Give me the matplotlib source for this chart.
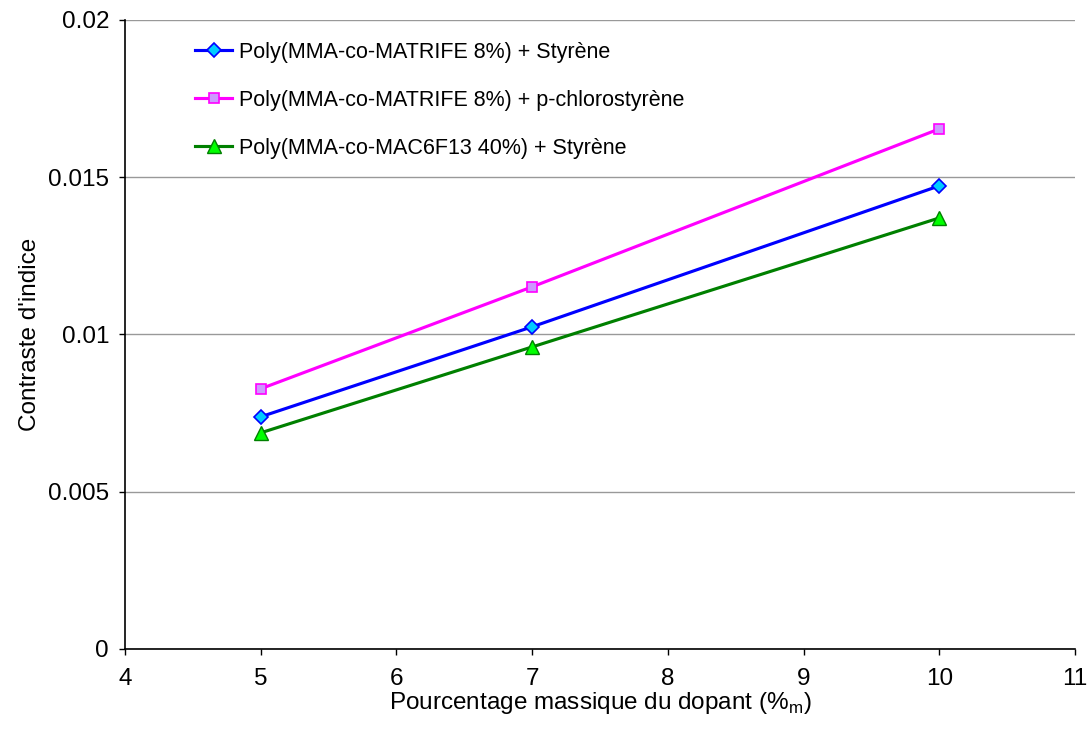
import numpy as np
import matplotlib
matplotlib.use("Agg")
from matplotlib import pyplot as plt

plt.rcParams['font.family'] = ['Liberation Sans', 'DejaVu Sans']

# data
dopant = [5, 7, 10]
styrene_matrife = [0.00738, 0.01024, 0.01472]
chloro_matrife = [0.00827, 0.01151, 0.01653]
styrene_mac6f13 = [0.00687, 0.0096, 0.0137]
labels = ["Poly(MMA-co-MATRIFE 8%) + Styrène",
          "Poly(MMA-co-MATRIFE 8%) + p-chlorostyrène",
          "Poly(MMA-co-MAC6F13 40%) + Styrène"]

fig = plt.figure(figsize=(10.87, 7.30), dpi=100)
ax = fig.add_axes([0.115, 0.111, 0.874, 0.862])

ax.plot(dopant, styrene_matrife, '-', color='#0000ff', lw=2.25, marker='D', ms=7.5,
        mfc='#00ccff', mec='#0000ff', mew=1.2, label=labels[0])
ax.plot(dopant, chloro_matrife, '-', color='#ff00ff', lw=2.25, marker='s', ms=7.5,
        mfc='#cc99ff', mec='#ff00ff', mew=1.2, label=labels[1])
ax.plot(dopant, styrene_mac6f13, '-', color='#008000', lw=2.25, marker='^', ms=10,
        mfc='#00ff00', mec='#008000', mew=1.0, label=labels[2])

ax.set_xlim(4, 11)
ax.set_ylim(0, 0.02)
ax.set_xticks(np.arange(4, 12, 1))
ax.set_yticks([0, 0.005, 0.01, 0.015, 0.02])
ax.set_yticklabels(['0', '0.005', '0.01', '0.015', '0.02'])
ax.tick_params(direction='out', length=4.5, width=1, labelsize=17.5)
ax.tick_params(axis='x', pad=9)
ax.tick_params(axis='y', pad=7)

ax.yaxis.grid(True, color='#999999', lw=1)
ax.set_axisbelow(True)

for s in ['top', 'right']:
    ax.spines[s].set_visible(False)
for s in ['left', 'bottom']:
    ax.spines[s].set_linewidth(1.2)

ax.set_xlabel("Pourcentage massique du dopant (%$_\\mathregular{m}$)", fontsize=17.5, labelpad=0)
ax.set_ylabel("Contraste d'indice", fontsize=17.5, labelpad=5)

ax.legend(loc='upper left', bbox_to_anchor=(0.1794, 0.9425), bbox_transform=fig.transFigure,
          frameon=False, borderpad=0, borderaxespad=0,
          fontsize=15.5, handlelength=1.74, handletextpad=0.32, labelspacing=1.25)

fig.savefig("out.png", dpi=100)
